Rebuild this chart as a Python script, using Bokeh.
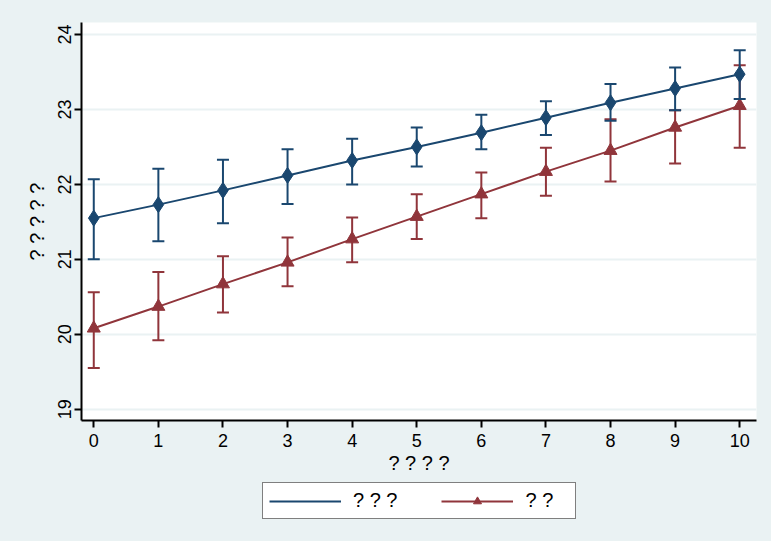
from bokeh.plotting import figure
from bokeh.layouts import column
from bokeh.models import Range1d, Legend, LegendItem, FixedTicker
from bokeh.embed import file_html
from bokeh.resources import INLINE

# ---- data ----
x_vals = [0, 1, 2, 3, 4, 5, 6, 7, 8, 9, 10]
blue_mean = [21.55, 21.73, 21.92, 22.12, 22.32, 22.50, 22.69, 22.89, 23.09, 23.28, 23.47]
blue_lo = [21.00, 21.24, 21.48, 21.74, 22.00, 22.24, 22.47, 22.66, 22.85, 22.99, 23.14]
blue_hi = [22.07, 22.21, 22.33, 22.47, 22.61, 22.76, 22.93, 23.11, 23.34, 23.56, 23.79]
red_mean = [20.08, 20.37, 20.67, 20.96, 21.27, 21.57, 21.87, 22.17, 22.45, 22.76, 23.05]
red_lo = [19.55, 19.92, 20.29, 20.64, 20.96, 21.27, 21.55, 21.85, 22.04, 22.28, 22.49]
red_hi = [20.56, 20.83, 21.04, 21.29, 21.56, 21.87, 22.16, 22.49, 22.87, 22.99, 23.59]
x_ticks = [0, 1, 2, 3, 4, 5, 6, 7, 8, 9, 10]
y_ticks = [19, 20, 21, 22, 23, 24]
blue_label = "? ? ?"
red_label = "? ?"
x_title = "? ? ? ?"
y_title = "? ? ? ? ?"

BLUE = "#1a476f"
RED = "#90353b"
BG = "#eaf2f3"
FONT = "Liberation Sans"

p = figure(width=771, height=480, output_backend="svg", toolbar_location=None,
           x_range=Range1d(-0.19, 10.26), y_range=Range1d(18.85, 24.16),
           min_border_left=81, min_border_right=15, min_border_top=22, min_border_bottom=60)
p.background_fill_color = "white"
p.border_fill_color = BG
p.outline_line_color = None

# red series (drawn first, underneath)
p.segment(x0=x_vals, y0=red_lo, x1=x_vals, y1=red_hi, line_color=RED, line_width=2)
p.scatter(x=x_vals, y=red_hi, marker="dash", size=12, line_color=RED, line_width=2)
p.scatter(x=x_vals, y=red_lo, marker="dash", size=12, line_color=RED, line_width=2)
p.line(x=x_vals, y=red_mean, line_color=RED, line_width=2)
p.scatter(x=x_vals, y=red_mean, marker="triangle", size=13, fill_color=RED, line_color=RED)

# blue series
p.segment(x0=x_vals, y0=blue_lo, x1=x_vals, y1=blue_hi, line_color=BLUE, line_width=2)
p.scatter(x=x_vals, y=blue_hi, marker="dash", size=12, line_color=BLUE, line_width=2)
p.scatter(x=x_vals, y=blue_lo, marker="dash", size=12, line_color=BLUE, line_width=2)
p.line(x=x_vals, y=blue_mean, line_color=BLUE, line_width=2)
p.scatter(x=x_vals, y=blue_mean, marker="diamond", size=16, fill_color=BLUE, line_color=BLUE)

# axes
for ax in (p.xaxis[0], p.yaxis[0]):
    ax.axis_line_width = 2
    ax.axis_line_color = "black"
    ax.major_tick_line_width = 2
    ax.major_tick_line_color = "black"
    ax.major_tick_out = 7
    ax.major_tick_in = 0
    ax.minor_tick_line_color = None
    ax.major_label_text_font = FONT
    ax.major_label_text_font_size = "18px"
    ax.major_label_text_color = "black"
    ax.axis_label_text_font = FONT
    ax.axis_label_text_font_size = "20px"
    ax.axis_label_text_font_style = "normal"
    ax.axis_label_text_color = "black"

p.xaxis.ticker = FixedTicker(ticks=x_ticks)
p.yaxis.ticker = FixedTicker(ticks=y_ticks)
p.xaxis.axis_label = x_title
p.yaxis.axis_label = y_title
p.yaxis.major_label_orientation = "vertical"
p.xaxis.major_label_standoff = 6
p.yaxis.major_label_standoff = 3
p.xaxis.axis_label_standoff = 2
p.yaxis.axis_label_standoff = 8

p.xgrid.grid_line_color = None
p.ygrid.grid_line_color = BG
p.ygrid.grid_line_width = 2

# legend strip below the chart (its key renderers are hidden; only the legend shows)
lg = figure(width=771, height=61, output_backend="svg", toolbar_location=None,
            x_axis_type=None, y_axis_type=None,
            min_border_left=0, min_border_right=0, min_border_top=0, min_border_bottom=0)
lg.background_fill_color = BG
lg.border_fill_color = BG
lg.outline_line_color = None
lg.xgrid.visible = False
lg.ygrid.visible = False
k_blue = lg.segment(x0=x_vals, y0=blue_lo, x1=x_vals, y1=blue_hi, line_color=BLUE, line_width=2, visible=False)
k_red_line = lg.line(x=x_vals, y=red_mean, line_color=RED, line_width=2, visible=False)
k_red_mark = lg.scatter(x=x_vals, y=red_mean, marker="triangle", size=13, fill_color=RED,
                        line_color=RED, visible=False)

legend = Legend(items=[LegendItem(label=blue_label, renderers=[k_blue]),
                       LegendItem(label=red_label, renderers=[k_red_line, k_red_mark])],
                orientation="horizontal", location=(181, 22))
legend.border_line_color = "black"
legend.border_line_width = 1.5
legend.background_fill_color = "white"
legend.background_fill_alpha = 1
legend.glyph_width = 72
legend.glyph_height = 20
legend.label_standoff = 12
legend.label_width = 44
legend.spacing = 44
legend.padding = 6
legend.margin = 0
legend.label_text_font = FONT
legend.label_text_font_size = "20px"
legend.label_text_color = "black"
lg.add_layout(legend, "center")

layout = column(p, lg, spacing=0, styles={"background-color": BG})
open("out.html", "w").write(file_html(layout, INLINE))
